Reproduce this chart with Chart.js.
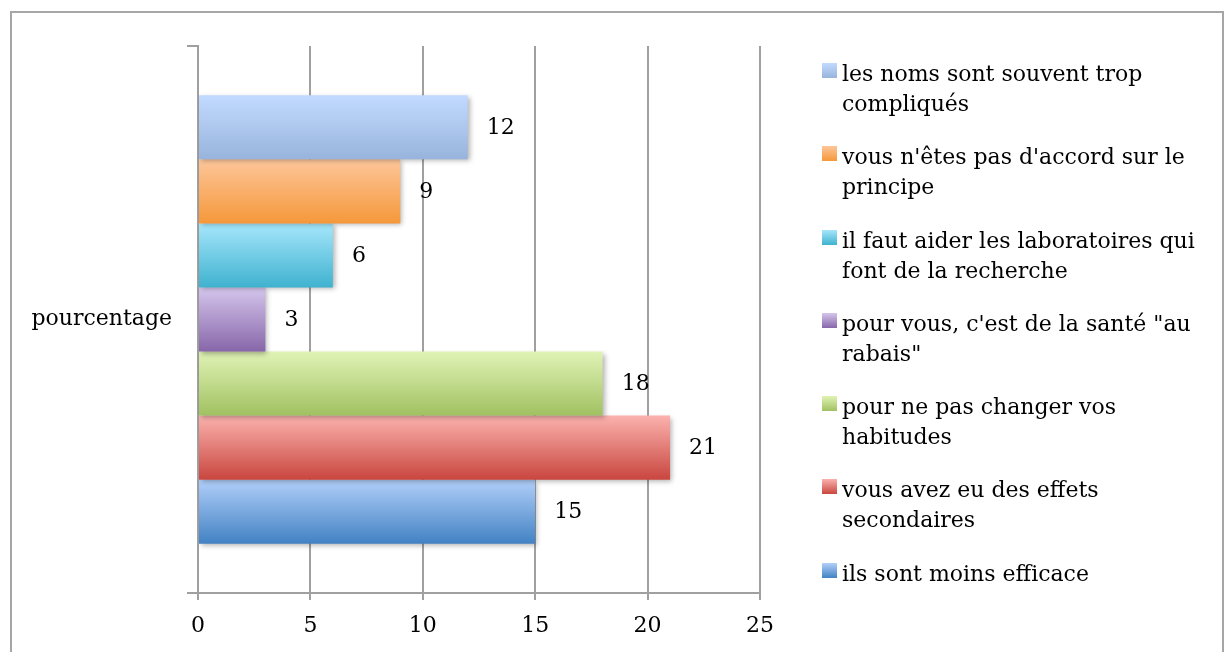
<!DOCTYPE html>
<html>
<head>
<meta charset="utf-8">
<script src="https://cdn.jsdelivr.net/npm/chart.js@4.4.1/dist/chart.umd.min.js"></script>
<style>
  body { margin: 0; background: #fff; font-family: "DejaVu Serif", serif; }
  #wrap { position: relative; width: 1231px; height: 652px; overflow: hidden; }
  #frame { position: absolute; left: 10px; top: 11px; width: 1210px; height: 700px; border: 2px solid #a6a6a6; }
  #chartBox { position: absolute; left: 0; top: 0; width: 1231px; height: 652px; }
  #legend { position: absolute; left: 822px; top: 59px; }
  .item { position: relative; height: 83.3px; padding-left: 20px; font-size: 22px; line-height: 30px; color: #000; white-space: nowrap; }
  .box { position: absolute; left: 0; top: 4px; width: 15px; height: 15px; }
</style>
</head>
<body>
<div id="wrap">
  <div id="frame"></div>
  <div id="chartBox"><canvas id="chart"></canvas></div>
  <div id="legend"></div>
</div>
<script>
var categories = ['pourcentage'];

var seriesNames = [
    ['les noms sont souvent trop', 'compliqués'],
    ["vous n'êtes pas d'accord sur le", 'principe'],
    ['il faut aider les laboratoires qui', 'font de la recherche'],
    ['pour vous, c\'est de la santé "au', 'rabais"'],
    ['pour ne pas changer vos', 'habitudes'],
    ['vous avez eu des effets', 'secondaires'],
    ['ils sont moins efficace']
];

var seriesValues = [12, 9, 6, 3, 18, 21, 15];

var topColors = ['#c2daff', '#fdc69a', '#a6e6fb', '#d5c6ec', '#e0f3b6', '#fbb2ae', '#b2cffa'];
var bottomColors = ['#98b4dc', '#f5983a', '#3fb2cf', '#8766a9', '#a1c161', '#c9463f', '#4282c3'];

var axisFont = { family: 'DejaVu Serif', size: 22 };
var gridColor = '#a0a0a0';

// gradient fill + soft shadow on bars, value labels next to the bar ends
var barStyle = {
    id: 'barStyle',
    beforeDatasetsDraw(chart) {
        var c = chart.ctx;
        chart.data.datasets.forEach((ds, i) => {
            chart.getDatasetMeta(i).data.forEach(el => {
                var g = c.createLinearGradient(0, el.y - el.height / 2, 0, el.y + el.height / 2);
                g.addColorStop(0, topColors[i]);
                g.addColorStop(1, bottomColors[i]);
                el.options = Object.assign({}, el.options, { backgroundColor: g });
            });
        });
        c.save();
        c.shadowColor = 'rgba(0,0,0,0.3)';
        c.shadowBlur = 5;
        c.shadowOffsetX = 2;
        c.shadowOffsetY = 2;
    },
    afterDatasetsDraw(chart) {
        var c = chart.ctx;
        c.restore();
        c.save();
        c.font = '22px "DejaVu Serif"';
        c.fillStyle = '#000';
        c.textAlign = 'left';
        c.textBaseline = 'middle';
        chart.data.datasets.forEach((ds, i) => {
            chart.getDatasetMeta(i).data.forEach((el, j) => {
                c.fillText(String(ds.data[j]), el.x + 19, el.y + 1);
            });
        });
        c.restore();
    }
};

function buildLegend() {
    var box = document.getElementById('legend');
    seriesNames.forEach((name, i) => {
        var item = document.createElement('div');
        item.className = 'item';
        var sq = document.createElement('span');
        sq.className = 'box';
        sq.style.background = 'linear-gradient(' + topColors[i] + ',' + bottomColors[i] + ')';
        item.appendChild(sq);
        name.forEach((line, k) => {
            if (k > 0) item.appendChild(document.createElement('br'));
            item.appendChild(document.createTextNode(line));
        });
        box.appendChild(item);
    });
}

function buildChart() {
    new Chart('chart', {
        type: 'bar',
        data: {
            labels: categories,
            datasets: seriesNames.map((name, i) => ({
                label: name.join(' '),
                data: [seriesValues[i]],
                backgroundColor: bottomColors[i],
                borderWidth: 0,
                barPercentage: 1,
                categoryPercentage: 0.82
            }))
        },
        options: {
            indexAxis: 'y',
            responsive: true,
            maintainAspectRatio: false,
            animation: false,
            layout: { padding: { top: 46, right: 471, left: 0, bottom: 0 } },
            plugins: {
                legend: { display: false },
                tooltip: { enabled: false }
            },
            scales: {
                x: {
                    min: 0,
                    max: 25,
                    ticks: { stepSize: 5, color: '#000', font: axisFont, padding: 13 },
                    grid: { color: gridColor, lineWidth: 2, tickLength: 7 },
                    border: { color: gridColor, width: 2 },
                    afterFit: s => { s.height = 59; }
                },
                y: {
                    ticks: { color: '#000', font: axisFont, padding: 15 },
                    grid: { color: gridColor, lineWidth: 2, tickLength: 11, drawOnChartArea: false, offset: true },
                    border: { color: gridColor, width: 2 },
                    afterFit: s => { s.width = 198; }
                }
            }
        },
        plugins: [barStyle]
    });
}

buildLegend();
buildChart();
</script>
</body>
</html>
